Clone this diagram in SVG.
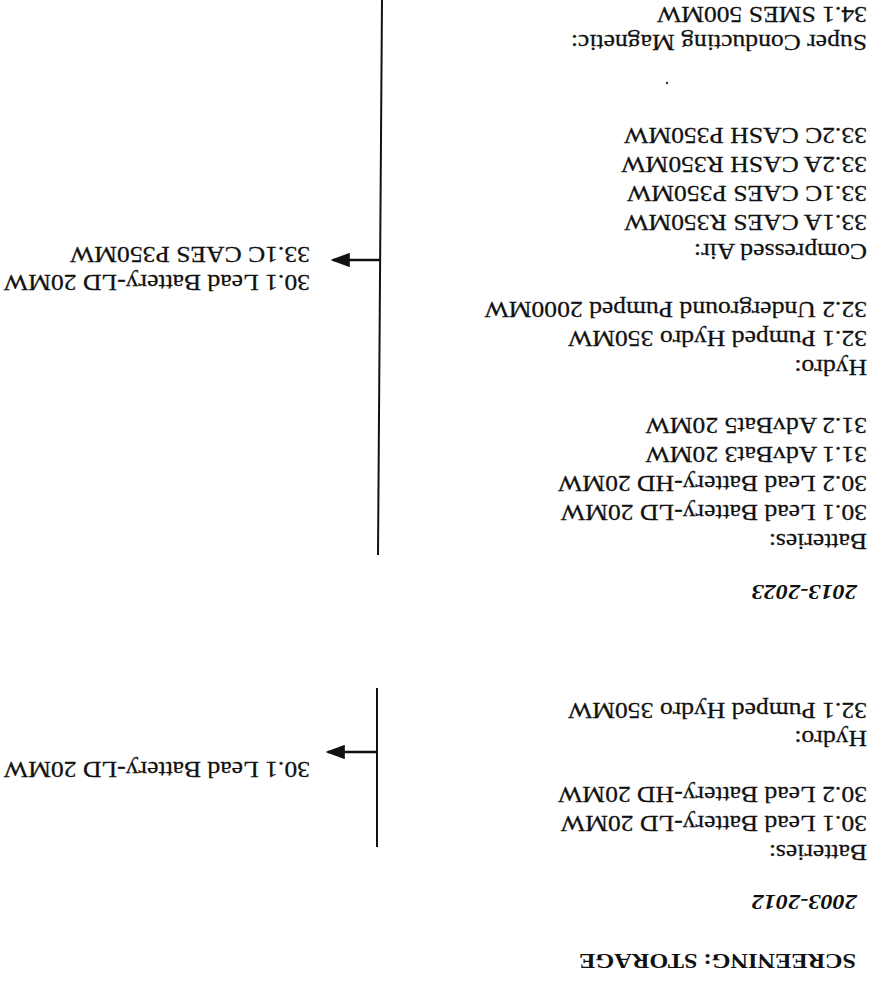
<svg xmlns="http://www.w3.org/2000/svg" width="882" height="984" viewBox="0 0 882 984">
<defs>
<style>
.t{font-family:"Liberation Serif","Times New Roman",serif;font-size:22.5px;fill:#111;stroke:#111;stroke-width:0.25;}
.h{font-family:"Liberation Serif","Times New Roman",serif;font-size:21.5px;font-weight:bold;fill:#111;}
.y{font-family:"Liberation Serif","Times New Roman",serif;font-size:21px;font-weight:bold;font-style:italic;fill:#111;}
.c{stroke:#111;fill:none;}
</style>
<marker id="ah" markerWidth="8" markerHeight="6" refX="7" refY="3" orient="auto" markerUnits="strokeWidth">
<path d="M0,0 L8,3 L0,6 Z" fill="#111"/>
</marker>
</defs>
<rect width="882" height="984" fill="#fff"/>

<g id="connectors">
<line class="c" x1="382" y1="0" x2="378" y2="555" stroke-width="2"/>
<line class="c" x1="380" y1="260" x2="333" y2="260" stroke-width="2.4" marker-end="url(#ah)"/>
<line class="c" x1="377" y1="688" x2="377" y2="847" stroke-width="2"/>
<line class="c" x1="377" y1="752" x2="328" y2="752" stroke-width="2.4" marker-end="url(#ah)"/>
</g>

<g id="title">
<text class="h" transform="translate(856,954) scale(-1.13,-1)">SCREENING: STORAGE</text>
</g>

<g id="period-2003-2012">
<text class="y" transform="translate(857,895) scale(-1.16,-1)">2003-2012</text>
<text class="t" transform="translate(867,845) scale(-1.14,-1)">Batteries:</text>
<text class="t" transform="translate(867,816) scale(-1.14,-1)">30.1 Lead Battery-LD 20MW</text>
<text class="t" transform="translate(867,787) scale(-1.14,-1)">30.2 Lead Battery-HD 20MW</text>
<text class="t" transform="translate(867,731) scale(-1.14,-1)">Hydro:</text>
<text class="t" transform="translate(867,703) scale(-1.14,-1)">32.1 Pumped Hydro 350MW</text>
</g>

<g id="result-2003-2012">
<text class="t" transform="translate(310,762) scale(-1.14,-1)">30.1 Lead Battery-LD 20MW</text>
</g>

<g id="period-2013-2023">
<text class="y" transform="translate(857,585) scale(-1.16,-1)">2013-2023</text>
<text class="t" transform="translate(867,534) scale(-1.14,-1)">Batteries:</text>
<text class="t" transform="translate(867,505) scale(-1.14,-1)">30.1 Lead Battery-LD 20MW</text>
<text class="t" transform="translate(867,476) scale(-1.14,-1)">30.2 Lead Battery-HD 20MW</text>
<text class="t" transform="translate(867,447) scale(-1.14,-1)">31.1 AdvBat3 20MW</text>
<text class="t" transform="translate(867,418) scale(-1.14,-1)">31.2 AdvBat5 20MW</text>
<text class="t" transform="translate(867,360) scale(-1.14,-1)">Hydro:</text>
<text class="t" transform="translate(867,331) scale(-1.14,-1)">32.1 Pumped Hydro 350MW</text>
<text class="t" transform="translate(867,302) scale(-1.14,-1)">32.2 Underground Pumped 2000MW</text>
<text class="t" transform="translate(867,244) scale(-1.14,-1)">Compressed Air:</text>
<text class="t" transform="translate(867,215) scale(-1.14,-1)">33.1A CAES R350MW</text>
<text class="t" transform="translate(867,186) scale(-1.14,-1)">33.1C CAES P350MW</text>
<text class="t" transform="translate(867,157) scale(-1.14,-1)">33.2A CASH R350MW</text>
<text class="t" transform="translate(867,128) scale(-1.14,-1)">33.2C CASH P350MW</text>
<circle cx="667" cy="83" r="1.2" fill="#333"/>
<text class="t" transform="translate(867,35) scale(-1.14,-1)">Super Conducting Magnetic:</text>
<text class="t" transform="translate(867,7) scale(-1.14,-1)">34.1 SMES 500MW</text>
</g>

<g id="result-2013-2023">
<text class="t" transform="translate(310,275) scale(-1.14,-1)">30.1 Lead Battery-LD 20MW</text>
<text class="t" transform="translate(310,247) scale(-1.14,-1)">33.1C CAES P350MW</text>
</g>
</svg>
